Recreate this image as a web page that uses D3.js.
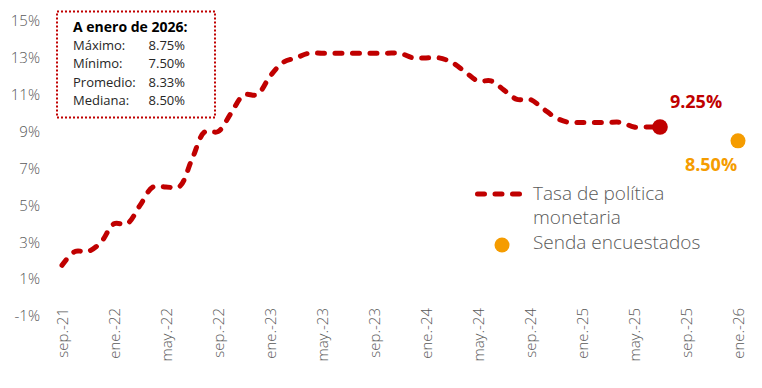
<!DOCTYPE html>
<html>
<head>
<meta charset="utf-8">
<script src="https://cdn.jsdelivr.net/npm/d3@7"></script>
<style>
  body { margin: 0; background: #fff; }
  svg text { font-family: "Open Sans", "Noto Sans", sans-serif; }
</style>
</head>
<body>
<div class="chart"></div>
<script>
// monthly policy rate, sep-21 .. jul-25
var rateMonths = d3.range(0, 47);
var rateValues = [1.75, 2.5, 2.5, 3.0, 4.0, 4.0, 5.0, 6.0, 6.0, 6.0, 7.5, 9.0, 9.0,
  10.0, 11.0, 11.0, 12.0, 12.75, 13.0, 13.25, 13.25, 13.25, 13.25, 13.25, 13.25,
  13.25, 13.25, 13.0, 13.0, 13.0, 12.75, 12.25, 11.75, 11.75, 11.25, 10.75, 10.75,
  10.25, 9.75, 9.5, 9.5, 9.5, 9.5, 9.5, 9.25, 9.25, 9.25];

// survey path (ene-26)
var surveyMonths = [52];
var surveyValues = [8.5];

var tickMonths = [0, 4, 8, 12, 16, 20, 24, 28, 32, 36, 40, 44, 48, 52];
var tickLabels = ["sep.-21", "ene.-22", "may.-22", "sep.-22", "ene.-23", "may.-23", "sep.-23",
  "ene.-24", "may.-24", "sep.-24", "ene.-25", "may.-25", "sep.-25", "ene.-26"];
var yTicks = [-1, 1, 3, 5, 7, 9, 11, 13, 15];

var boxTitle = "A enero de 2026:";
var boxNames = ["Máximo:", "Mínimo:", "Promedio:", "Mediana:"];
var boxValues = ["8.75%", "7.50%", "8.33%", "8.50%"];

var legendNames = [["Tasa de política", "monetaria"], ["Senda encuestados"]];

var red = "#c00000",
    orange = "#f59c00",
    grey = "#595959";

var w = 762, h = 388;

var x = d3.scaleLinear().domain([0, 52]).range([62, 738]);
var y = d3.scaleLinear().domain([-1, 15]).range([316, 21]);

var svg = d3.select(".chart").append("svg")
  .attr("width", w)
  .attr("height", h);

// y axis labels only
var yAxis = svg.append("g")
  .attr("transform", "translate(40,0)")
  .call(d3.axisLeft(y).tickValues(yTicks).tickSize(0).tickPadding(0)
    .tickFormat(function (d) { return d + "%"; }));
yAxis.select(".domain").remove();
yAxis.selectAll("text")
  .attr("fill", grey)
  .style("font-size", "15px")
  .style("font-weight", 300)
  .style("font-family", "'Open Sans', sans-serif");

// x axis, rotated labels
var xAxis = svg.append("g")
  .attr("transform", "translate(0,308)")
  .call(d3.axisBottom(x).tickValues(tickMonths).tickSize(0)
    .tickFormat(function (d, i) { return tickLabels[i]; }));
xAxis.select(".domain").remove();
xAxis.selectAll("text")
  .attr("fill", grey)
  .attr("text-anchor", "end")
  .attr("transform", "rotate(-90)")
  .attr("x", 0)
  .attr("y", 0)
  .attr("dy", "0.35em")
  .style("font-size", "15px")
  .style("font-weight", 300)
  .style("font-family", "'Open Sans', sans-serif");

// rate line
var line = d3.line()
  .x(function (d, i) { return x(rateMonths[i]); })
  .y(function (d) { return y(d); })
  .curve(d3.curveCatmullRom);

svg.append("path")
  .datum(rateValues)
  .attr("d", line)
  .attr("fill", "none")
  .attr("stroke", red)
  .attr("stroke-width", 5)
  .attr("stroke-linecap", "round")
  .attr("stroke-dasharray", "7,10.5");

var last = rateValues.length - 1;
svg.append("circle")
  .attr("cx", x(rateMonths[last]))
  .attr("cy", y(rateValues[last]))
  .attr("r", 7.8)
  .attr("fill", red);

svg.append("text")
  .attr("x", x(rateMonths[last]) + 36)
  .attr("y", y(rateValues[last]) - 19)
  .attr("text-anchor", "middle")
  .attr("fill", red)
  .style("font-size", "18px")
  .style("font-weight", "bold")
  .text(rateValues[last].toFixed(2) + "%");

// survey point
svg.selectAll(".survey")
  .data(surveyValues)
  .enter()
  .append("circle")
    .attr("class", "survey")
    .attr("cx", function (d, i) { return x(surveyMonths[i]); })
    .attr("cy", function (d) { return y(d); })
    .attr("r", 7.5)
    .attr("fill", orange);

svg.append("text")
  .attr("x", x(surveyMonths[0]) - 27)
  .attr("y", y(surveyValues[0]) + 30)
  .attr("text-anchor", "middle")
  .attr("fill", orange)
  .style("font-size", "18px")
  .style("font-weight", "bold")
  .text(surveyValues[0].toFixed(2) + "%");

// info box
var box = svg.append("g");
box.append("rect")
  .attr("x", 57)
  .attr("y", 11.5)
  .attr("width", 158)
  .attr("height", 106)
  .attr("fill", "none")
  .attr("stroke", red)
  .attr("stroke-width", 2)
  .attr("stroke-dasharray", "2,2");

box.append("text")
  .attr("x", 73)
  .attr("y", 32)
  .attr("fill", "#000")
  .style("font-size", "14px")
  .style("font-weight", "bold")
  .text(boxTitle);

box.selectAll(".bname")
  .data(boxNames)
  .enter()
  .append("text")
    .attr("x", 73)
    .attr("y", function (d, i) { return 50 + i * 18.3; })
    .attr("fill", "#262626")
    .style("font-size", "13px")
    .text(function (d) { return d; });

box.selectAll(".bval")
  .data(boxValues)
  .enter()
  .append("text")
    .attr("x", 185)
    .attr("y", function (d, i) { return 50 + i * 18.3; })
    .attr("text-anchor", "end")
    .attr("fill", "#262626")
    .style("font-size", "13px")
    .text(function (d) { return d; });

// legend
var legend = svg.append("g");
legend.append("line")
  .attr("x1", 477.5)
  .attr("x2", 521)
  .attr("y1", 194)
  .attr("y2", 194)
  .attr("stroke", red)
  .attr("stroke-width", 5)
  .attr("stroke-linecap", "round")
  .attr("stroke-dasharray", "7,10.5");

legend.append("circle")
  .attr("cx", 502)
  .attr("cy", 245)
  .attr("r", 7.5)
  .attr("fill", orange);

var legendLines = [legendNames[0][0], legendNames[0][1], legendNames[1][0]];
legend.selectAll(".ltext")
  .data(legendLines)
  .enter()
  .append("text")
    .attr("x", 533)
    .attr("y", function (d, i) { return 200 + i * 24.3; })
    .attr("fill", grey)
    .style("font-size", "19px")
    .style("font-weight", 300)
    .text(function (d) { return d; });
</script>
</body>
</html>
